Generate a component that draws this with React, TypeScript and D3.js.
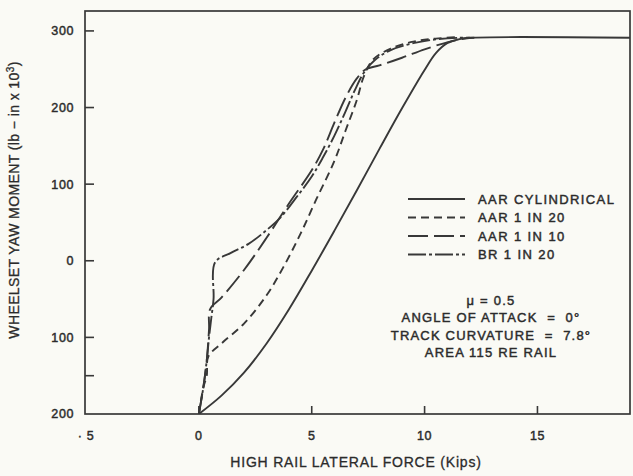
import React from "react";
import * as d3 from "d3";

// Wheelset yaw moment vs. high rail lateral force, four wheel profiles
type Pt = [number, number];

const aarCylindrical: Pt[] = [
  [0, -200], [1, -176], [2, -146], [3, -108], [4, -63], [5, -13], [6, 39],
  [7, 92], [8, 146], [9, 199], [10, 249], [10.5, 271], [11, 284], [11.5, 289],
  [12, 291], [19.1, 291],
];

const aar1in20: Pt[] = [
  [0, -200], [0.2, -165], [0.35, -150], [0.42, -125], [1, -108], [2, -82],
  [3, -45], [3.75, -8], [4.5, 35], [5.2, 80], [6, 130], [6.5, 170], [7, 210],
  [7.3, 240], [7.7, 262], [8.5, 277], [9.5, 286], [10.5, 290], [11.5, 292],
];

const aar1in10: Pt[] = [
  [0, -200], [0.2, -165], [0.35, -130], [0.45, -90], [0.5, -63], [1, -48],
  [2, -12], [3, 30], [4, 75], [5, 118], [5.5, 145], [6, 180], [6.5, 213],
  [7, 238], [7.4, 250], [8, 255], [9, 265], [10, 276], [11, 285], [11.8, 290],
  [12.2, 291],
];

const br1in20: Pt[] = [
  [0, -200], [0.2, -165], [0.35, -130], [0.45, -100], [0.55, -75], [0.65, -50],
  [0.72, -2], [1.4, 10], [2.2, 22], [3, 40], [3.6, 56], [4.3, 82], [5, 110],
  [5.5, 135], [6, 163], [6.5, 195], [6.9, 222], [7.3, 245], [7.8, 262],
  [8.5, 275], [9.5, 284], [10.5, 289], [11.5, 291], [12, 291],
];

const seriesNames = ["AAR CYLINDRICAL", "AAR 1 IN 20", "AAR 1 IN 10", "BR 1 IN 20"];
const seriesData = [aarCylindrical, aar1in20, aar1in10, br1in20];
const seriesDash = ["none", "8,5", "20,6", "18,3,3,3"];

const xTicks = [-5, 0, 5, 10, 15];
const xTickMarks = [0, 5, 10, 15];
const yTickLabels = [300, 200, 100, 0, -100, -200];
const yTickMarks = [300, 200, 100, 0, -100, -150];

const notes = [
  "\u03bc = 0.5",
  "ANGLE OF ATTACK \u00a0= \u00a00\u00b0",
  "TRACK CURVATURE \u00a0= \u00a07.8\u00b0",
  "AREA 115 RE RAIL",
];

const W = 633;
const H = 476;
const left = 85;
const right = 630;
const top = 11;
const bottom = 414;

const ink = "#383838";
const textInk = "#2b2b2b";
const font = "'Liberation Sans', Arial, Helvetica, sans-serif";

// slightly heavier glyphs, like an offset-printed figure
const heavy = {
  fill: textInk,
  stroke: textInk,
  strokeWidth: 0.45,
  paintOrder: "stroke",
} as const;

export default function App() {
  const x = d3.scaleLinear().domain([-5, 19.1]).range([left + 1, right]);
  const y = d3.scaleLinear().domain([-200, 326]).range([bottom, top]);

  const line = d3
    .line<Pt>()
    .x((d) => x(d[0]))
    .y((d) => y(d[1]))
    .curve(d3.curveCatmullRom.alpha(0.5));

  const legendX0 = 408;
  const legendX1 = 465;
  const legendY0 = 199;
  const legendStep = 18.5;

  return (
    <svg
      width={W}
      height={H}
      style={{ position: "absolute", left: 0, top: 0, background: "#fafaf5" }}
      fontFamily={font}
    >
      <rect x={0} y={0} width={W} height={H} fill="#fafaf5" />
      <defs>
        <clipPath id="plot">
          <rect x={left} y={top} width={right - left} height={bottom - top} />
        </clipPath>
      </defs>

      {/* curves */}
      <g clipPath="url(#plot)">
        {seriesData.map((d, i) => (
          <path
            key={seriesNames[i]}
            d={line(d) ?? ""}
            fill="none"
            stroke={ink}
            strokeWidth={1.9}
            strokeDasharray={seriesDash[i]}
          />
        ))}
      </g>

      {/* frame */}
      <rect
        x={left}
        y={top}
        width={right - left}
        height={bottom - top}
        fill="none"
        stroke={ink}
        strokeWidth={1.7}
      />

      {/* y ticks */}
      {yTickMarks.map((v) => (
        <line key={"yt" + v} x1={left} x2={left + 9} y1={y(v)} y2={y(v)} stroke={ink} strokeWidth={1.6} />
      ))}
      {yTickLabels.map((v) => (
        <text
          key={"yl" + v}
          x={74}
          y={y(v)}
          dy="0.35em"
          textAnchor="end"
          fontSize={12.5}
          letterSpacing={0.6}
          {...heavy}
        >
          {Math.abs(v)}
        </text>
      ))}

      {/* x ticks */}
      {xTickMarks.map((v) => (
        <line key={"xt" + v} x1={x(v)} x2={x(v)} y1={bottom} y2={bottom - 8} stroke={ink} strokeWidth={1.6} />
      ))}
      {xTicks.map((v) => (
        <text
          key={"xl" + v}
          x={x(v)}
          y={440}
          textAnchor="middle"
          fontSize={12.5}
          letterSpacing={0.6}
          {...heavy}
        >
          {v < 0 ? "\u00b7 " + Math.abs(v) : v}
        </text>
      ))}

      {/* axis titles */}
      <text x={356} y={467} textAnchor="middle" fontSize={14} letterSpacing={0.8} {...heavy} strokeWidth={0.3}>
        HIGH RAIL LATERAL FORCE (Kips)
      </text>
      <text
        transform={`translate(19, 200) rotate(-90)`}
        textAnchor="middle"
        fontSize={14}
        letterSpacing={0.4}
        {...heavy}
        strokeWidth={0.3}
      >
        WHEELSET YAW MOMENT (lb − in x 10
        <tspan dy={-5} fontSize={10}>3</tspan>
        <tspan dy={5}>)</tspan>
      </text>

      {/* legend */}
      {seriesNames.map((name, i) => (
        <g key={"lg" + name}>
          <line
            x1={legendX0}
            x2={legendX1}
            y1={legendY0 + i * legendStep}
            y2={legendY0 + i * legendStep}
            stroke={ink}
            strokeWidth={1.9}
            strokeDasharray={seriesDash[i]}
          />
          <text
            x={478}
            y={legendY0 + i * legendStep}
            dy="0.35em"
            fontSize={13}
            letterSpacing={1.4}
            {...heavy}
          >
            {name}
          </text>
        </g>
      ))}

      {/* test conditions */}
      {notes.map((t, i) => (
        <text
          key={"n" + i}
          x={491}
          y={300 + i * 17.5}
          dy="0.35em"
          textAnchor="middle"
          fontSize={13}
          letterSpacing={1.2}
          {...heavy}
        >
          {t}
        </text>
      ))}
    </svg>
  );
}
